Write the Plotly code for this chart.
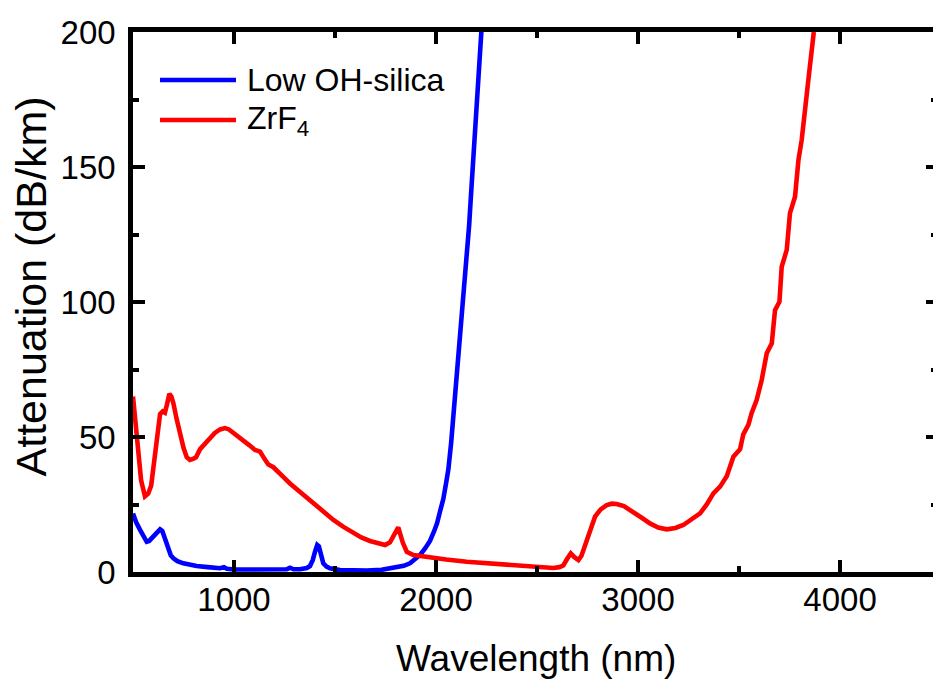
import plotly.graph_objects as go

# ---- data ----
zrf4_wl = [500, 515, 526, 540, 559, 575, 590, 609, 634, 647, 658, 668, 680, 690, 700, 715, 733, 750,
           766, 782, 800, 812, 832, 855, 881, 905, 931, 955, 975, 997, 1020, 1046, 1075, 1104, 1120,
           1129, 1150, 1170, 1195, 1210, 1240, 1277, 1327, 1370, 1409, 1450, 1492, 1540, 1591, 1630,
           1673, 1710, 1748, 1772, 1790, 1813, 1835, 1855, 1888, 1921, 1987, 2050, 2152, 2230, 2317,
           2400, 2482, 2540, 2581, 2610, 2630, 2650, 2667, 2685, 2705, 2720, 2746, 2765, 2787, 2815,
           2845, 2870, 2894, 2930, 2977, 3020, 3059, 3100, 3142, 3185, 3224, 3265, 3307, 3340, 3373,
           3406, 3439, 3472, 3505, 3521, 3546, 3562, 3587, 3612, 3637, 3662, 3678, 3700, 3711, 3736,
           3752, 3777, 3794, 3810, 3827, 3843, 3870]
zrf4_att = [65, 52, 44, 34, 28, 29, 32, 44, 58.5, 59.5, 59, 62, 66, 65, 62.5, 57, 51, 46,
            42.5, 41.5, 42, 42.5, 45.5, 47.5, 49.5, 51.5, 52.8, 53.3, 52.8, 51.6, 50.5, 49, 47, 45.2, 44.8,
            44.6, 42, 39.8, 38.8, 37.5, 35.5, 32.8, 29.7, 26.8, 24.2, 21.7, 19.3, 16.8, 14.3, 12.8,
            11.5, 10.7, 10, 11, 13.5, 16.5, 11, 7.5, 6.3, 5.9, 5.1, 4.6, 3.8, 3.4, 3.0,
            2.6, 2.2, 2.0, 1.5, 1.8, 2.4, 5.0, 6.9, 5.5, 4.4, 6.0, 11.9, 16.5, 20.5, 23.2,
            24.8, 25.3, 25.2, 24.4, 22.3, 20, 18.0, 16.5, 15.8, 16.3, 17.4, 19.3, 21.7, 25, 29.1,
            31.6, 35.5, 42.7, 45.5, 51, 54.5, 58.8, 63.7, 71.1, 81, 84.7, 97, 100.1, 113, 119.3,
            132.9, 139, 152.6, 160, 173.6, 182.2, 200]

silica_wl = [500, 515, 535, 555, 568, 580, 593, 610, 625, 634, 645, 655, 665, 675, 687, 700, 720, 749,
             780, 815, 870, 931, 950, 965, 1000, 1100, 1200, 1261, 1277, 1295, 1327, 1360, 1376, 1390,
             1401, 1412, 1420, 1426, 1434, 1442, 1458, 1475, 1525, 1600, 1657, 1730, 1789, 1840, 1871,
             1900, 1921, 1945, 1970, 1990, 2005, 2020, 2036, 2050, 2061, 2075, 2086, 2098, 2110, 2123,
             2135, 2145, 2155, 2164, 2172, 2180, 2188, 2197, 2205, 2214, 2223, 2226]
silica_att = [21.7, 18.5, 15.6, 12.5, 11.2, 11.5, 12.5, 14, 15.5, 15.8, 15.2, 13, 10.5, 8.1, 6.2, 5.1, 4.0, 3.2,
              2.6, 2.2, 1.8, 1.4, 1.8, 1.2, 0.9, 0.8, 0.9, 1.0, 1.6, 1.0, 1.0, 1.5, 2.2, 4.5,
              7.5, 10, 9.5, 8.1, 5.5, 3.2, 2.0, 1.4, 0.7, 0.5, 0.5, 0.8, 1.4, 2.3, 3.2,
              4.8, 6.3, 8.6, 11.5, 15, 18, 22.5, 27, 33, 38, 48, 58, 68, 78.8, 88.5,
              98.7, 108.5, 118.5, 128.5, 138.4, 148.5, 158.3, 168, 178.1, 188.5, 199.3, 202]

series_names = ["Low OH-silica", "ZrF<sub>4</sub>"]
series_colors = ["#0000FF", "#FF0000"]

x_ticks = [1000, 2000, 3000, 4000]
x_minor = [1500, 2500, 3500, 4500]
y_ticks = [0, 50, 100, 150, 200]
y_minor = [25, 75, 125, 175]

x_title = "Wavelength (nm)"
y_title = "Attenuation (dB/km)"

FONT = "Liberation Sans, Arial, Helvetica, sans-serif"

fig = go.Figure()
fig.add_trace(go.Scatter(x=silica_wl, y=silica_att, mode="lines", name=series_names[0],
                         line=dict(color=series_colors[0], width=4.6), showlegend=False))
fig.add_trace(go.Scatter(x=zrf4_wl, y=zrf4_att, mode="lines", name=series_names[1],
                         line=dict(color=series_colors[1], width=4.6), showlegend=False))
# helper trace so that the right-hand tick axis is drawn
fig.add_trace(go.Scatter(x=[None], y=[None], yaxis="y2", mode="lines", showlegend=False,
                         hoverinfo="skip"))

fig.update_layout(
    width=933, height=684,
    margin=dict(l=133, r=0, t=32, b=112),
    plot_bgcolor="white", paper_bgcolor="white",
    font=dict(family=FONT, color="black"),
    showlegend=False,
    xaxis=dict(range=[500, 4460], tickvals=x_ticks, ticks="inside", ticklen=12, tickwidth=4,
               tickcolor="black", showline=True, linewidth=4.5, linecolor="black", mirror="ticks",
               showgrid=False, zeroline=False, tickfont=dict(size=33, family=FONT),
               ticklabelstandoff=-5,
               minor=dict(tickvals=x_minor, ticks="inside", ticklen=6, tickwidth=4,
                          tickcolor="black", showgrid=False)),
    yaxis=dict(range=[0, 200], tickvals=y_ticks, ticks="inside", ticklen=12, tickwidth=4,
               tickcolor="black", showline=True, linewidth=4.5, linecolor="black", mirror=False,
               showgrid=False, zeroline=False, tickfont=dict(size=33, family=FONT),
               ticklabelstandoff=6,
               minor=dict(tickvals=y_minor, ticks="inside", ticklen=6, tickwidth=4,
                          tickcolor="black", showgrid=False)),
    yaxis2=dict(range=[0, 200], overlaying="y", side="right", anchor="x", tickvals=y_ticks,
                ticks="inside", ticklen=7, tickwidth=4, tickcolor="black", showline=False,
                showticklabels=False, showgrid=False, zeroline=False,
                minor=dict(tickvals=y_minor, ticks="inside", ticklen=2, tickwidth=4,
                           tickcolor="black", showgrid=False)),
)

# axis titles
fig.add_annotation(text=x_title, xref="paper", yref="paper", x=0.504, y=-0.16,
                   xanchor="center", yanchor="middle", showarrow=False,
                   font=dict(size=37, family=FONT, color="black"))
fig.add_annotation(text=y_title, xref="paper", yref="paper", x=-0.128, y=0.528,
                   xanchor="center", yanchor="middle", textangle=-90, showarrow=False,
                   font=dict(size=43, family=FONT, color="black"))

# legend (line samples + labels)
leg_y = [0.911, 0.837]
for name, color, ly in zip(series_names, series_colors, leg_y):
    fig.add_shape(type="line", xref="paper", yref="paper", x0=0.03375, x1=0.12875, y0=ly, y1=ly,
                  line=dict(color=color, width=4.6))
    fig.add_annotation(text=name, xref="paper", yref="paper", x=0.14, y=ly, xanchor="left",
                       yanchor="middle", showarrow=False,
                       font=dict(size=32, family=FONT, color="black"))

fig.write_html("out.html")
